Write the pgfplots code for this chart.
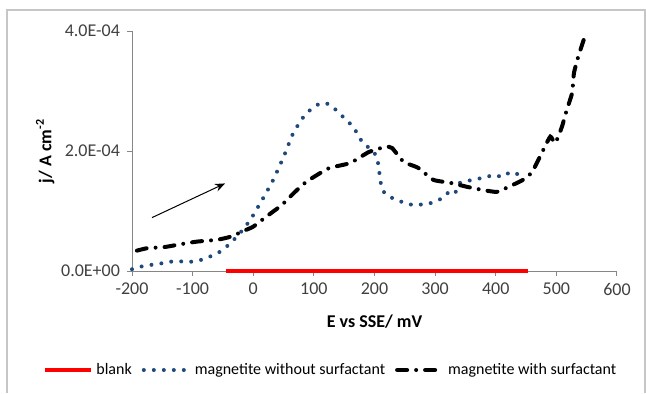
\documentclass[border=0pt]{standalone}
\usepackage{pgfplots}
\pgfplotsset{compat=1.18}
\usepackage{fontspec}
\setmainfont{Carlito}
\usetikzlibrary{arrows.meta}
\definecolor{axgray}{RGB}{134,134,134}
\definecolor{tickgray}{RGB}{64,64,64}
\definecolor{dotblue}{RGB}{31,73,125}
\begin{document}
\begin{tikzpicture}
\useasboundingbox (0,0) rectangle (323pt,-196.5pt);
\draw[gray!45, line width=0.8pt] (3.5pt,-196.5pt) -- (3.5pt,-5pt) -- (322.5pt,-5pt) -- (322.5pt,-196.5pt);
\begin{axis}[
 at={(66pt,-135.5pt)}, anchor=south west,
 scale only axis, width=242.5pt, height=120pt,
 xmin=-200, xmax=600, ymin=0, ymax=4e-4,
 axis lines*=left,
 axis line style={axgray, line width=0.5pt},
 xtick={-200,-100,...,600}, ytick={0,2e-4,4e-4},
 yticklabels={0.0E+00,2.0E-04,4.0E-04},
 scaled y ticks=false,
 tick align=outside, major tick length=2.5pt,
 tick style={axgray, line width=0.5pt},
 tick label style={font=\fontsize{9}{10}\selectfont, text=tickgray},
 /pgf/number format/assume math mode=true,
 xlabel={E vs SSE/ mV}, ylabel={j/ A cm\textsuperscript{-2}},
 label style={font=\bfseries\fontsize{9}{10}\selectfont},
 xlabel style={at={(axis description cs:0.5,-0.2125)},anchor=center},
 ylabel style={at={(axis description cs:-0.179,0.5)},anchor=center},
 clip=false,
 legend style={at={(axis description cs:0.411,-0.4125)}, anchor=center, draw=none, fill=none,
   legend columns=3, font=\fontsize{8}{9}\selectfont,
   nodes={inner sep=1.5pt},
   /tikz/every even column/.append style={column sep=3.5pt}},
 legend image code/.code={\draw[#1] (0pt,0pt) -- (23pt,0pt);},
]
\addplot[red, line width=2pt] coordinates {(-45,0) (453,0)};
\addlegendentry{blank}
\addplot[dotblue, line width=2pt, line cap=round, dash pattern=on 0pt off 5pt, smooth, tension=0.3] coordinates {
(-200,0.3e-5)(-187,0.7e-5)(-170,1.0e-5)(-150,1.3e-5)(-137,1.55e-5)(-120,1.6e-5)(-101,1.55e-5)(-88,1.8e-5)(-76,2.2e-5)(-55,3.2e-5)(-38,4.6e-5)(-22,6.3e-5)(-5,8.5e-5)(8,10.7e-5)(20,12.8e-5)(33,15.2e-5)(50,19e-5)(66,23e-5)(83,25.7e-5)(99,27.3e-5)(113,28e-5)(127,27.7e-5)(148,25.7e-5)(165,24e-5)(181,21.3e-5)(193,20.4e-5)(204,19e-5)(209,15.7e-5)(212,13.7e-5)(220,12.7e-5)(237,11.8e-5)(264,11e-5)(292,11.3e-5)(313,12.2e-5)(324,13.3e-5)(333,13.0e-5)(341,14.7e-5)(363,15.2e-5)(386,15.7e-5)(396,16e-5)(412,15.7e-5)(424,16.5e-5)(440,16e-5)};
\addlegendentry{magnetite without surfactant}
\addplot[black, line width=2pt, line cap=round, dash pattern=on 5pt off 4.5pt on 0pt off 4.5pt, smooth, tension=0.3] coordinates {
(-192,3.4e-5)(-175,3.8e-5)(-146,4.0e-5)(-118,4.5e-5)(-93,4.9e-5)(-60,5.2e-5)(-38,5.7e-5)(-13,6.8e-5)(0,7.4e-5)(22,9.1e-5)(47,11e-5)(69,13.2e-5)(88,14.9e-5)(124,17.1e-5)(160,18e-5)(190,19.8e-5)(218,20.7e-5)(229,20.5e-5)(248,18.2e-5)(272,17.2e-5)(297,15.2e-5)(325,14.7e-5)(354,14e-5)(379,13.5e-5)(402,13.2e-5)(427,14.3e-5)(445,15.2e-5)(460,16.5e-5)(476,19.7e-5)(490,22.4e-5)(498,21.3e-5)(509,24e-5)(517,26.8e-5)(526,29.7e-5)(529,33e-5)(536,35.7e-5)(545,38.5e-5)};
\addlegendentry{magnetite with surfactant}
\draw[-{Stealth[length=5pt,width=4pt]}, black, line width=0.5pt] (axis cs:-167,8.9e-5) -- (axis cs:-46.5,14.6e-5);
\end{axis}
\end{tikzpicture}
\end{document}
